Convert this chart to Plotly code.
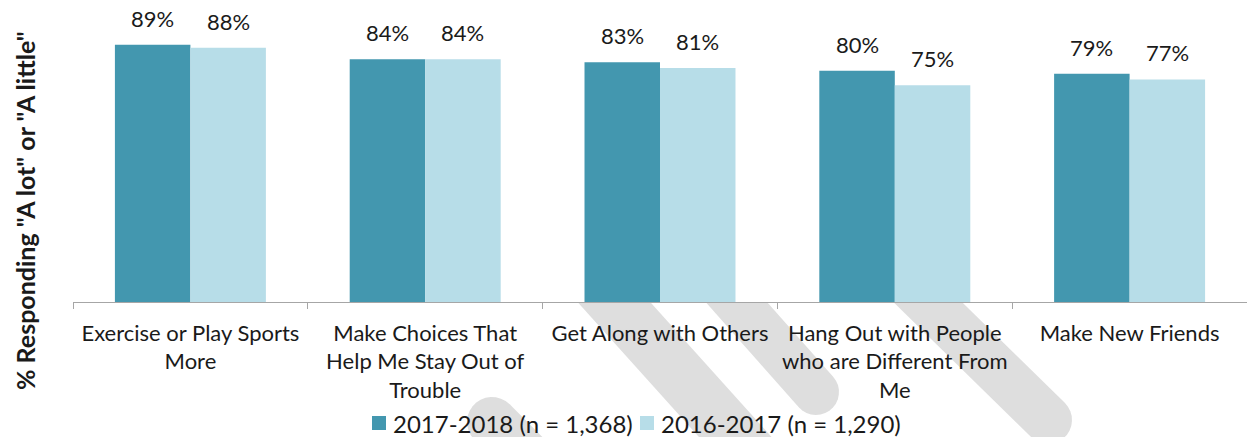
import numpy as np
import plotly.graph_objects as go

# ---- data ----
categories = [
    "Exercise or Play Sports More",
    "Make Choices That Help Me Stay Out of Trouble",
    "Get Along with Others",
    "Hang Out with People who are Different From Me",
    "Make New Friends",
]
tick_labels = [
    "Exercise or Play Sports<br>More",
    "Make Choices That<br>Help Me Stay Out of<br>Trouble",
    "Get Along with Others",
    "Hang Out with People<br>who are Different From<br>Me",
    "Make New Friends",
]
series_names = ["2017-2018 (n = 1,368)", "2016-2017 (n = 1,290)"]
values_2017_18 = [89, 84, 83, 80, 79]
values_2016_17 = [88, 84, 81, 75, 77]

# ---- style ----
W, H = 1247, 437
M_L, M_R, M_T, M_B = 73, 0, 13, 135
PLOT_W = W - M_L - M_R
PLOT_H = H - M_T - M_B
AX_Y = H - M_B
DARK = "#4397AF"
LIGHT = "#B7DDE8"
TEXT = "#1A1A1A"
AXIS = "#A6A6A6"
WATERMARK = "#DEDEDE"
FONT = "Lato, 'Open Sans', sans-serif"
BARGAP = 0.357

series = [(series_names[0], values_2017_18, DARK), (series_names[1], values_2016_17, LIGHT)]


def to_paper(px, py):
    return (px - M_L) / PLOT_W, (AX_Y - py) / PLOT_H


fig = go.Figure()
for name, vals, col in series:
    fig.add_trace(go.Bar(
        x=categories, y=vals, name=name,
        marker=dict(color=col, line=dict(width=0)),
        hoverinfo="skip", showlegend=False,
    ))

# value labels above each bar
cat_px = PLOT_W / len(categories)
bar_px = cat_px * (1 - BARGAP) / len(series)
for i, (name, vals, col) in enumerate(series):
    shift = (i - (len(series) - 1) / 2) * bar_px
    for c, v in zip(categories, vals):
        fig.add_annotation(
            x=c, y=v, xref="x", yref="y", text=f"{v}%",
            showarrow=False, xshift=shift, yshift=11, yanchor="bottom",
            font=dict(family=FONT, size=22, color=TEXT),
        )


# faint diagonal watermark strokes, kept below the axis line
def clip_below(pts, y_lim):
    """Keep the part of a polygon with y >= y_lim (pixel space, y down)."""
    out = []
    m = len(pts)
    for k in range(m):
        a, b = pts[k], pts[(k + 1) % m]
        ina, inb = a[1] >= y_lim, b[1] >= y_lim
        if ina:
            out.append(a)
        if ina != inb:
            t = (y_lim - a[1]) / (b[1] - a[1])
            out.append(a + t * (b - a))
    return out


def stroke(p0, p1, w, round0=False, round1=True, n=16):
    p0 = np.array(p0, float)
    p1 = np.array(p1, float)
    d = (p1 - p0) / np.linalg.norm(p1 - p0)
    nrm = np.array([-d[1], d[0]])
    r = w / 2
    pts = []
    if round0:
        for a in np.linspace(np.pi / 2, 3 * np.pi / 2, n):
            pts.append(p0 + r * (np.cos(a) * d + np.sin(a) * nrm))
    else:
        pts += [p0 + r * nrm, p0 - r * nrm]
    if round1:
        for a in np.linspace(-np.pi / 2, np.pi / 2, n):
            pts.append(p1 + r * (np.cos(a) * d + np.sin(a) * nrm))
    else:
        pts += [p1 - r * nrm, p1 + r * nrm]
    pts = clip_below(pts, AX_Y + 1)
    return "M " + " L ".join("{:.4f},{:.4f}".format(*to_paper(*p)) for p in pts) + " Z"


wm = [
    stroke((585, 270), (765, 470), 54, round1=False),
    stroke((708, 270), (816, 392), 46),
    stroke((895, 270), (1048, 420), 48),
    stroke((492, 422), (560, 490), 50, round0=True, round1=False),
]
for p in wm:
    fig.add_shape(type="path", path=p, xref="paper", yref="paper",
                  fillcolor=WATERMARK, line=dict(width=0), layer="below")

# y axis title
fig.add_annotation(
    x=(25 - M_L) / PLOT_W, y=(AX_Y - 211) / PLOT_H, xref="paper", yref="paper",
    xanchor="center", yanchor="middle",
    text='<b>% Responding "A lot" or "A little"</b>', textangle=-90, showarrow=False,
    font=dict(family=FONT, size=25, color=TEXT),
)

# legend row at the bottom: colour square followed by series name
LEG_Y = 423
LEG_SQ = 14
leg_x = [372, 640]
for (name, vals, col), lx in zip(series, leg_x):
    x0, y0 = to_paper(lx, LEG_Y + LEG_SQ / 2)
    x1, y1 = to_paper(lx + LEG_SQ, LEG_Y - LEG_SQ / 2)
    fig.add_shape(type="rect", xref="paper", yref="paper", x0=x0, y0=y0, x1=x1, y1=y1,
                  fillcolor=col, line=dict(width=0))
    tx, ty = to_paper(lx + LEG_SQ + 5, LEG_Y)
    fig.add_annotation(
        x=tx, y=ty, xref="paper", yref="paper", xanchor="left", yanchor="middle",
        text=name, showarrow=False, font=dict(family=FONT, size=24, color=TEXT),
    )

fig.update_layout(
    width=W, height=H,
    margin=dict(l=M_L, r=M_R, t=M_T, b=M_B, pad=0),
    paper_bgcolor="white", plot_bgcolor="rgba(0,0,0,0)",
    barmode="group", bargap=BARGAP, bargroupgap=0,
    font=dict(family=FONT, size=22, color=TEXT),
    showlegend=False,
    xaxis=dict(
        tickmode="array", tickvals=categories, ticktext=tick_labels,
        tickson="boundaries", ticks="outside", ticklen=6, tickcolor=AXIS,
        showline=True, linecolor=AXIS, linewidth=1.3, showgrid=False,
        ticklabelstandoff=11,
        tickfont=dict(family=FONT, size=22, color=TEXT), fixedrange=True,
    ),
    yaxis=dict(
        range=[0, 100], showticklabels=False, ticks="", showgrid=False,
        zeroline=False, showline=False, fixedrange=True,
    ),
)

fig.write_html("out.html", config={"displayModeBar": False})
